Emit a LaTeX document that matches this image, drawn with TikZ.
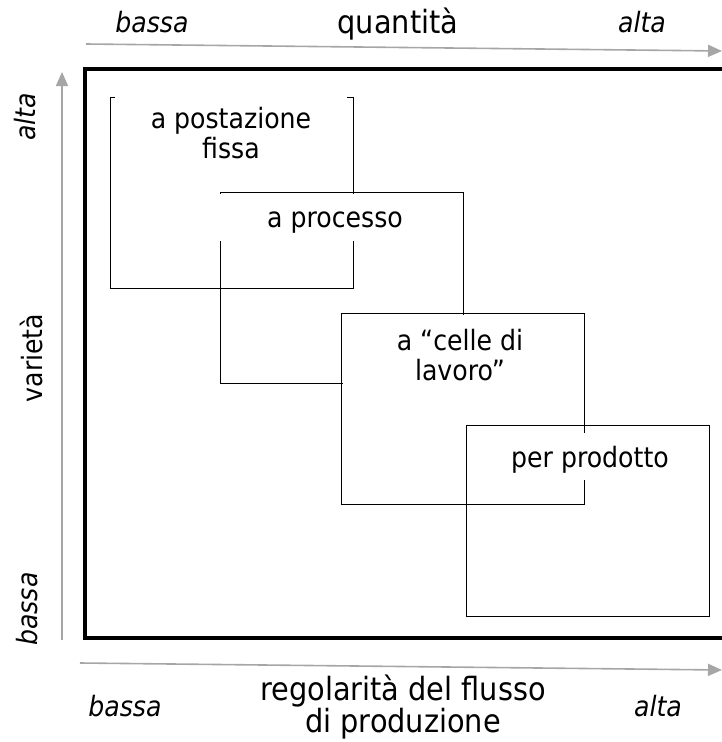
\documentclass[tikz,border=0pt]{standalone}
\usepackage{fontspec}
\setmainfont{DejaVu Sans Condensed}[ItalicFont={DejaVu Sans Condensed Oblique}]
\usepackage{tikz}
\usetikzlibrary{arrows.meta}

\tikzset{
	zona/.style={draw,line width=1.2pt,minimum width=243pt,minimum height=191pt,
		anchor=north west,inner sep=0pt},
	bianco/.style={fill=white,inner sep=0pt,anchor=north west},
	scritta/.style={font=\fontsize{28}{30}\selectfont,align=center,anchor=base},
	titolo/.style={font=\fontsize{32}{30}\selectfont,align=center,anchor=base},
	estremo/.style={font=\itshape\fontsize{28}{30}\selectfont,anchor=base},
	asse/.style={draw=black!35,line width=1.6pt,-{Triangle[length=14pt,width=12pt,fill=black!35]}},
}

\begin{document}
\begin{tikzpicture}[x=1pt,y=-1pt]
		\useasboundingbox (0,0) rectangle (722,742);
		\clip (0,0) rectangle (722,742);
		% cornice
		\draw [line width=4.5pt] (85,69) rectangle (760,638);
		% assi
		\coordinate (q0) at (86,44);
		\coordinate (q1) at (722,51);
		\coordinate (v0) at (62,640);
		\coordinate (v1) at (62,72);
		\coordinate (r0) at (80,663);
		\coordinate (r1) at (722,670);
		\draw [asse] (q0) -- (q1);
		\draw [asse] (v0) -- (v1);
		\draw [asse] (r0) -- (r1);
		\node [estremo] (qbassa) at (152,32) {bassa};
		\node [titolo] (quant) at (398,33) {quantità};
		\node [estremo] (qalta) at (642,32) {alta};
		\node [estremo,rotate=90] (valta) at (35,117) {alta};
		\node [scritta,rotate=90] (var) at (42,358) {varietà};
		\node [estremo,rotate=90] (vbassa) at (37,609) {bassa};
		\node [estremo] (rbassa) at (125,716) {bassa};
		% base = ultima riga
		\node [titolo] (reg) at (403,732) {regolarità del flusso\\di produzione};
		\node [estremo] (ralta) at (658,716) {alta};
		% riquadri
		\node [zona] (fissa) at (110,97) {};
		\node [zona] (proc) at (220,192) {};
		\node [bianco,minimum width=232pt,minimum height=75pt] (bfissa) at (115,95) {};
		\node [bianco,minimum width=236pt,minimum height=47pt] (bproc) at (218,193.5) {};
		\node [scritta] (tfissa) at (231,158) {a postazione\\fissa};
		\node [scritta] (tproc) at (335,227) {a processo};
		\node [zona] (celle) at (341,313) {};
		\node [bianco,minimum width=237pt,minimum height=80pt] (bcelle) at (343,315) {};
		\node [scritta] (tcelle) at (460,380) {a “celle di\\lavoro”};
		\node [zona] (prod) at (466,425) {};
		\node [bianco,minimum width=237pt,minimum height=47pt] (bprod) at (469,433) {};
		\node [scritta] (tprod) at (590,467) {per prodotto};
	\end{tikzpicture}
\end{document}
